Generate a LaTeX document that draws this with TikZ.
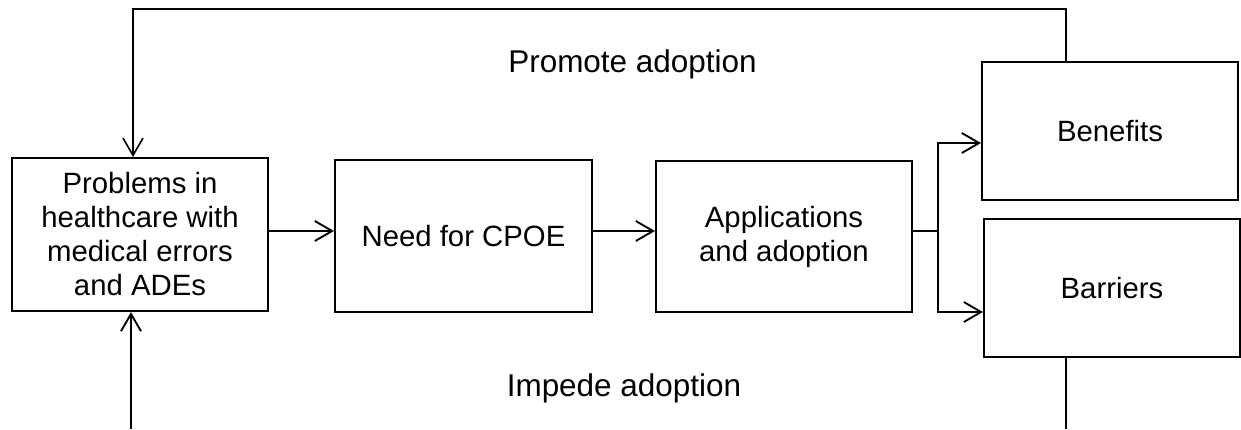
\documentclass[tikz,border=0pt]{standalone}
\usepackage{fontspec}
\setmainfont{Liberation Sans}
\usetikzlibrary{arrows.meta}

\tikzset{every picture/.style={line width=0.75pt}}

\begin{document}
\begin{tikzpicture}[x=0.75pt,y=0.75pt,yscale=-1,xscale=1,
  stagebox/.style={draw,line width=1.5pt,align=center,inner sep=0pt,
    font=\fontsize{22}{25.5}\selectfont},
  flow/.style={line width=1.4pt,-{Straight Barb[length=13pt,width=15pt,line width=1.4pt]}},
  loopline/.style={line width=1.2pt},
  looplabel/.style={anchor=base,font=\fontsize{23.6}{27}\selectfont}]
\useasboundingbox (0,0) rectangle (1241,429);

%Shape: Rectangle [id:problems]
\node [stagebox,minimum width=192pt,minimum height=114.75pt] (problems) at (140,234.5) {Problems in\\healthcare with\\medical errors\\and ADEs};
%Shape: Rectangle [id:need]
\node [stagebox,minimum width=192.75pt,minimum height=114pt] (need) at (463.5,236) {Need for CPOE};
%Shape: Rectangle [id:apps]
\node [stagebox,minimum width=192pt,minimum height=113.25pt] (apps) at (784,236.5) {Applications\\and adoption};
%Shape: Rectangle [id:benefits]
\node [stagebox,minimum width=192pt,minimum height=103.5pt] (benefits) at (1110,131) {Benefits};
%Shape: Rectangle [id:barriers]
\node [stagebox,minimum width=192pt,minimum height=103.5pt] (barriers) at (1112,288) {Barriers};

%Straight Lines [id:problems-need]
\draw [flow] (problems.east |- 0,231) -- (need.west |- 0,231);
%Straight Lines [id:need-apps]
\draw [flow] (need.east |- 0,231) -- (apps.west |- 0,231);

%Straight Lines [id:split]
\coordinate (split) at (938,231);
\draw [line width=1.4pt] (apps.east |- split) -- (split);
\draw [flow] (split) |- (benefits.west |- 0,143);
\draw [flow] (split) |- (barriers.west |- 0,312);

%Straight Lines [id:promote]
\draw [loopline,-{Straight Barb[length=13pt,width=15pt,line width=1.2pt]}] (benefits.north -| 1066,0) |- (133,9) -- (problems.north -| 133,0);
%Straight Lines [id:impede]
\draw [flow] (131,429) -- (problems.south -| 131,0);
\draw [loopline] (barriers.south -| 1066,0) -- (1066,429);

% Text Node
\node [looplabel] (promote) at (632.5,72) {Promote adoption};
% Text Node
\node [looplabel] (impede) at (624,396) {Impede adoption};

\end{tikzpicture}
\end{document}
